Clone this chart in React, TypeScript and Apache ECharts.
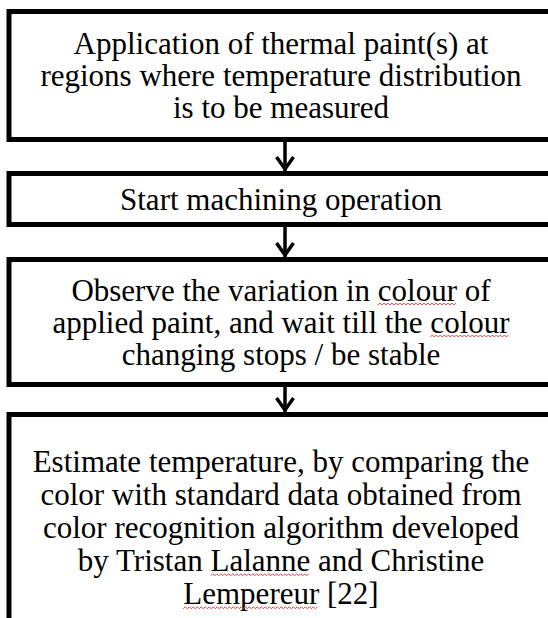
import React, { useEffect, useRef } from "react";
import * as echarts from "echarts";

const boxLines: string[][] = [
  ["Application of thermal paint(s) at", "regions where temperature distribution", "is to be measured"],
  ["Start machining operation"],
  ["Observe the variation in colour of", "applied paint, and wait till the colour", "changing stops / be stable"],
  [
    "Estimate temperature, by comparing the",
    "color with standard data obtained from",
    "color recognition algorithm developed",
    "by Tristan Lalanne and Christine",
    "Lempereur [22]",
  ],
];
const flaggedWords: string[] = ["colour", "Lalanne", "Lempereur"];

// layout (pixels)
const boxTop = [11.5, 173.5, 259.5, 414.5];
const boxBottom = [139.5, 224.5, 384.5, 700];
const boxLeft = 9;
const boxRight = 558;
const textCx = 281;
const arrowX = 285;
const lineGap = [32, 32, 32, 33];
const FONT_SIZE = 31;
const FONT_FAMILY = '"Liberation Serif", "Times New Roman", serif';

export default function App() {
  const ref = useRef<HTMLDivElement>(null);
  useEffect(() => {
    if (!ref.current) return;
    const chart = echarts.init(ref.current, undefined, { renderer: "svg" });
    const canvas = document.createElement("canvas");
    const ctx = canvas.getContext("2d")!;
    ctx.font = `${FONT_SIZE}px ${FONT_FAMILY}`;
    const measure = (s: string) => ctx.measureText(s).width;

    const elements: any[] = [];
    boxLines.forEach((lines, bi) => {
      elements.push({
        type: "rect",
        shape: { x: boxLeft, y: boxTop[bi], width: boxRight - boxLeft, height: boxBottom[bi] - boxTop[bi] },
        style: { fill: "#fff", stroke: "#000", lineWidth: 5 },
      });
      const bottomForCenter = bi === 3 ? 641 : boxBottom[bi];
      const center = (boxTop[bi] + bottomForCenter) / 2;
      const n = lines.length;
      lines.forEach((line, li) => {
        const y = center + (li - (n - 1) / 2) * lineGap[bi];
        elements.push({
          type: "text",
          x: textCx,
          y,
          style: {
            text: line,
            fill: "#000",
            font: `${FONT_SIZE}px ${FONT_FAMILY}`,
            align: "center",
            verticalAlign: "middle",
          },
        });
        const w = measure(line);
        const startX = textCx - w / 2;
        flaggedWords.forEach((word) => {
          let idx = line.indexOf(word);
          while (idx >= 0) {
            const x0 = startX + measure(line.substring(0, idx));
            const ww = measure(word);
            const pts: number[][] = [];
            const yb = y + 14;
            let k = 0;
            for (let x = x0; x <= x0 + ww; x += 2) {
              pts.push([x, yb + (k % 2 === 0 ? 1 : -1)]);
              k++;
            }
            elements.push({
              type: "polyline",
              shape: { points: pts },
              style: { stroke: "#e8453c", lineWidth: 1, fill: "none" },
            });
            idx = line.indexOf(word, idx + word.length);
          }
        });
      });
    });
    // arrows
    for (let i = 0; i < 3; i++) {
      const y0 = boxBottom[i] + 2.5;
      const y1 = boxTop[i + 1] - 2.5;
      elements.push({
        type: "line",
        shape: { x1: arrowX, y1: y0, x2: arrowX, y2: y1 },
        style: { stroke: "#000", lineWidth: 3.5 },
      });
      elements.push({
        type: "polyline",
        shape: { points: [[arrowX - 8.5, y1 - 14], [arrowX, y1 - 2], [arrowX + 8.5, y1 - 14]] },
        style: { stroke: "#000", lineWidth: 3.5, fill: "none" },
      });
    }

    chart.setOption({
      animation: false,
      backgroundColor: "#fff",
      graphic: { elements },
    });
    return () => chart.dispose();
  }, []);
  return (
    <div
      ref={ref}
      style={{ position: "fixed", left: 0, top: 0, width: 548, height: 618, background: "#fff" }}
    />
  );
}
